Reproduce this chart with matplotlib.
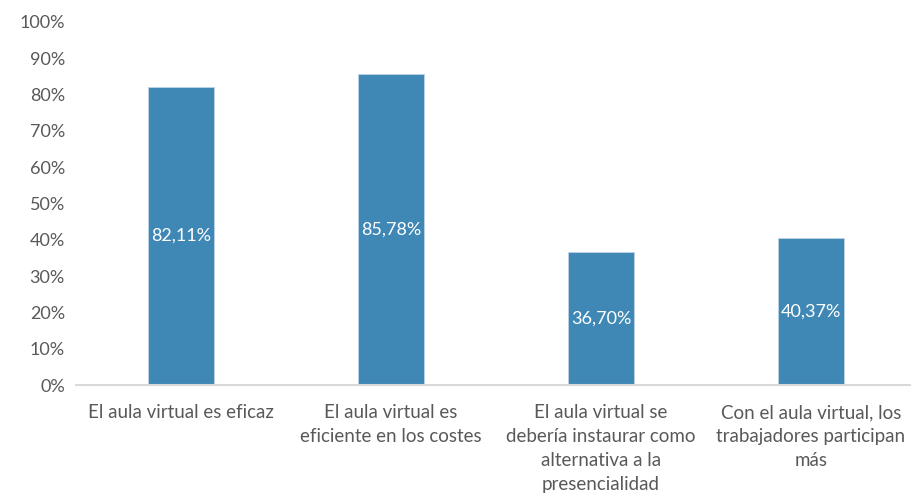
import matplotlib
matplotlib.use('Agg')
import matplotlib.pyplot as plt
from matplotlib.ticker import FuncFormatter

plt.rcParams['font.family'] = ['Lato', 'DejaVu Sans']

categorias = ['El aula virtual es eficaz',
              'El aula virtual es\neficiente en los costes',
              'El aula virtual se\ndebería instaurar como\nalternativa a la\npresencialidad',
              'Con el aula virtual, los\ntrabajadores participan\nmás']
valores = [82.11, 85.78, 36.70, 40.37]
etiquetas = ['82,11%', '85,78%', '36,70%', '40,37%']

fig = plt.figure(figsize=(9.12, 5.00), dpi=100)
ax = fig.add_axes([76 / 912, 115 / 500, 840 / 912, 363 / 500])

x = range(len(valores))
barras = ax.bar(x, valores, width=0.314, color='#3F88B5', edgecolor='#BDD3E6', linewidth=0.6, zorder=2)

for b, v, t in zip(barras, valores, etiquetas):
    ax.text(b.get_x() + b.get_width() / 2, v / 2, t, ha='center', va='center',
            color='white', fontsize=13)

ax.set_xlim(-0.5, len(valores) - 0.5)
ax.set_ylim(0, 100)
ax.set_yticks(range(0, 101, 10))
ax.yaxis.set_major_formatter(FuncFormatter(lambda v, p: f'{int(v)}%'))
ax.set_xticks(list(x))
ax.set_xticklabels(categorias, linespacing=1.5)

for s in ['top', 'right', 'left']:
    ax.spines[s].set_visible(False)
ax.spines['bottom'].set_color('#D9D9D9')
ax.spines['bottom'].set_linewidth(1.5)
ax.tick_params(axis='both', length=0, labelcolor='#595959')
ax.tick_params(axis='x', labelsize=13.5, pad=14)
ax.tick_params(axis='y', labelsize=13, pad=8)

fig.savefig('out.png', dpi=100)
